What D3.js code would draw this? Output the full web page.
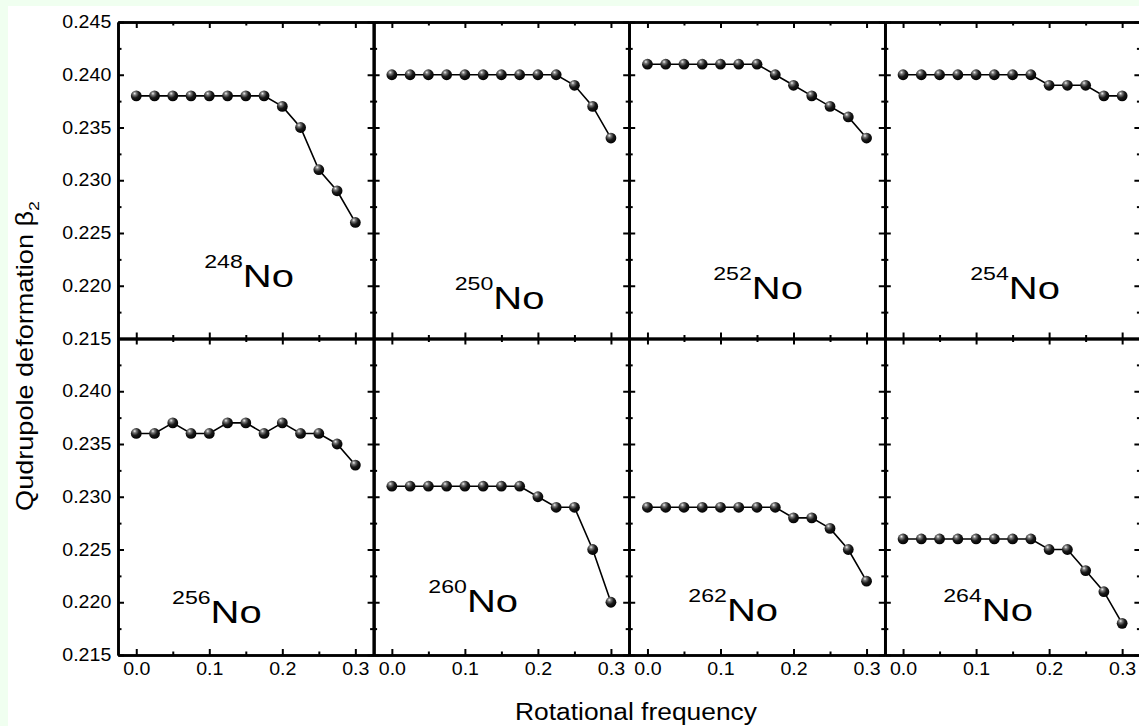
<!DOCTYPE html>
<html>
<head>
<meta charset="utf-8">
<script src="https://cdn.jsdelivr.net/npm/d3@7"></script>
<style>
  html, body { margin: 0; padding: 0; background: #f0fff0; }
  svg { display: block; }
  text { font-family: "Liberation Sans", Arial, Helvetica, sans-serif; fill: #000; }
</style>
</head>
<body>
<svg id="chart" width="1139" height="726"></svg>
<script>
// ---------------- data ----------------
const freq = [0, 0.025, 0.05, 0.075, 0.1, 0.125, 0.15, 0.175, 0.2, 0.225, 0.25, 0.275, 0.3];
const massNumbers = ["248", "250", "252", "254", "256", "260", "262", "264"];
const beta248 = [0.238, 0.238, 0.238, 0.238, 0.238, 0.238, 0.238, 0.238, 0.237, 0.235, 0.231, 0.229, 0.226];
const beta250 = [0.240, 0.240, 0.240, 0.240, 0.240, 0.240, 0.240, 0.240, 0.240, 0.240, 0.239, 0.237, 0.234];
const beta252 = [0.241, 0.241, 0.241, 0.241, 0.241, 0.241, 0.241, 0.240, 0.239, 0.238, 0.237, 0.236, 0.234];
const beta254 = [0.240, 0.240, 0.240, 0.240, 0.240, 0.240, 0.240, 0.240, 0.239, 0.239, 0.239, 0.238, 0.238];
const beta256 = [0.236, 0.236, 0.237, 0.236, 0.236, 0.237, 0.237, 0.236, 0.237, 0.236, 0.236, 0.235, 0.233];
const beta260 = [0.231, 0.231, 0.231, 0.231, 0.231, 0.231, 0.231, 0.231, 0.230, 0.229, 0.229, 0.225, 0.220];
const beta262 = [0.229, 0.229, 0.229, 0.229, 0.229, 0.229, 0.229, 0.229, 0.228, 0.228, 0.227, 0.225, 0.222];
const beta264 = [0.226, 0.226, 0.226, 0.226, 0.226, 0.226, 0.226, 0.226, 0.225, 0.225, 0.223, 0.221, 0.218];
const series = [beta248, beta250, beta252, beta254, beta256, beta260, beta262, beta264];

const xMajorTicks = [0, 0.1, 0.2, 0.3];
const xMinorTicks = [0.05, 0.15, 0.25];
const yMajorTicks = [0.215, 0.220, 0.225, 0.230, 0.235, 0.240, 0.245];
const yMinorTicks = [0.2175, 0.2225, 0.2275, 0.2325, 0.2375, 0.2425];

const xTitle = "Rotational frequency";
const yTitle = "Qudrupole deformation β";
const yTitleSub = "2";

// label anchors in data units (x = frequency, y = β2 at baseline)
const labelFreq = [0.093, 0.086, 0.090, 0.092, 0.049, 0.050, 0.056, 0.055];
const labelBeta = [0.2199, 0.2178, 0.2187, 0.2187, 0.2180, 0.2191, 0.2182, 0.2182];

// ---------------- layout ----------------
const W = 1139, H = 726;
const svg = d3.select("#chart");
svg.append("rect").attr("x", 0).attr("y", 0).attr("width", W).attr("height", H).attr("fill", "#f0fff0");
svg.append("rect").attr("x", 8).attr("y", 6).attr("width", W - 8).attr("height", H - 6).attr("fill", "#ffffff");

const defs = svg.append("defs");
const grad = defs.append("radialGradient").attr("id", "ball")
  .attr("cx", "38%").attr("cy", "32%").attr("r", "70%").attr("fx", "35%").attr("fy", "28%");
grad.append("stop").attr("offset", "0%").attr("stop-color", "#f2f2f2");
grad.append("stop").attr("offset", "22%").attr("stop-color", "#7a7a7a");
grad.append("stop").attr("offset", "55%").attr("stop-color", "#1a1a1a");
grad.append("stop").attr("offset", "100%").attr("stop-color", "#000000");

const plotLeft = 118, colW = 255.6;
const rowTop = [22, 338.5], rowH = 316.5;

const fmtX = d3.format(".1f");
const fmtY = d3.format(".3f");

function styleAxis(g) {
  g.select(".domain").attr("stroke", "#000").attr("stroke-width", 2.6);
  g.selectAll(".tick line").attr("stroke", "#000").attr("stroke-width", 2);
  g.selectAll(".tick text").attr("font-size", 17.5).attr("fill", "#000")
    .attr("font-family", '"Liberation Sans", Arial, sans-serif');
}

series.forEach((vals, i) => {
  const col = i % 4, row = Math.floor(i / 4);
  const left = plotLeft + col * colW;
  const top = rowTop[row];
  const x = d3.scaleLinear().domain([-0.025, 0.325]).range([left, left + colW]);
  const y = d3.scaleLinear().domain([0.215, 0.245]).range([top + rowH, top]);
  const g = svg.append("g");

  // minor ticks
  g.append("g").attr("transform", `translate(0,${top + rowH})`)
    .call(d3.axisBottom(x).tickValues(xMinorTicks).tickSize(-3.5).tickSizeOuter(0).tickFormat(""))
    .call(styleAxis);
  g.append("g").attr("transform", `translate(0,${top})`)
    .call(d3.axisTop(x).tickValues(xMinorTicks).tickSize(-3.5).tickSizeOuter(0).tickFormat(""))
    .call(styleAxis);
  g.append("g").attr("transform", `translate(${left},0)`)
    .call(d3.axisLeft(y).tickValues(yMinorTicks).tickSize(-3.5).tickSizeOuter(0).tickFormat(""))
    .call(styleAxis);
  g.append("g").attr("transform", `translate(${left + colW},0)`)
    .call(d3.axisRight(y).tickValues(yMinorTicks).tickSize(-3.5).tickSizeOuter(0).tickFormat(""))
    .call(styleAxis);

  // major ticks
  const bx = g.append("g").attr("transform", `translate(0,${top + rowH})`)
    .call(d3.axisBottom(x).tickValues(xMajorTicks).tickSize(-6).tickSizeOuter(0).tickPadding(8)
      .tickFormat(row === 1 ? fmtX : ""))
    .call(styleAxis);
  bx.selectAll(".tick text").attr("transform", "scale(1.12,1)");
  g.append("g").attr("transform", `translate(0,${top})`)
    .call(d3.axisTop(x).tickValues(xMajorTicks).tickSize(-6).tickSizeOuter(0).tickFormat(""))
    .call(styleAxis);
  const ly = g.append("g").attr("transform", `translate(${left},0)`)
    .call(d3.axisLeft(y).tickValues(yMajorTicks).tickSize(-6).tickSizeOuter(0).tickPadding(6)
      .tickFormat(d => (col === 0 && !(row === 1 && d > 0.244)) ? fmtY(d) : ""))
    .call(styleAxis);
  ly.selectAll(".tick text").attr("transform", "scale(1.12,1)");
  g.append("g").attr("transform", `translate(${left + colW},0)`)
    .call(d3.axisRight(y).tickValues(yMajorTicks).tickSize(-6).tickSizeOuter(0).tickFormat(""))
    .call(styleAxis);

  // line
  const pts = freq.map((f, k) => [f, vals[k]]);
  g.append("path").datum(pts)
    .attr("fill", "none").attr("stroke", "#000").attr("stroke-width", 1.6)
    .attr("d", d3.line().x(d => x(d[0])).y(d => y(d[1])));
  g.selectAll("circle.pt").data(pts).join("circle").attr("class", "pt")
    .attr("cx", d => x(d[0])).attr("cy", d => y(d[1])).attr("r", 5.4)
    .attr("fill", "url(#ball)");

  // isotope label
  const lab = g.append("g")
    .attr("transform", `translate(${x(labelFreq[i])},${y(labelBeta[i])}) scale(1.25,1)`);
  const t = lab.append("text").attr("x", 0).attr("y", 0);
  t.append("tspan").attr("font-size", 18.5).attr("dy", -19).text(massNumbers[i]);
  t.append("tspan").attr("font-size", 32).attr("dy", 19).text("No");
});

// axis titles
const xt = svg.append("text").attr("text-anchor", "middle").attr("font-size", 24)
  .attr("transform", "translate(636,720)").text(xTitle);
const xtw = xt.node().getBBox().width;
xt.attr("transform", `translate(636,720) scale(${242 / xtw},1)`);

const yt = svg.append("text").attr("text-anchor", "middle").attr("font-size", 23)
  .attr("transform", "translate(33,356) rotate(-90)");
yt.append("tspan").text(yTitle);
yt.append("tspan").attr("font-size", 15).attr("dy", 6).text(yTitleSub);
const ytw = yt.node().getBBox().width;
yt.attr("transform", `translate(33,356) rotate(-90) scale(${310 / ytw},1)`);
</script>
</body>
</html>
